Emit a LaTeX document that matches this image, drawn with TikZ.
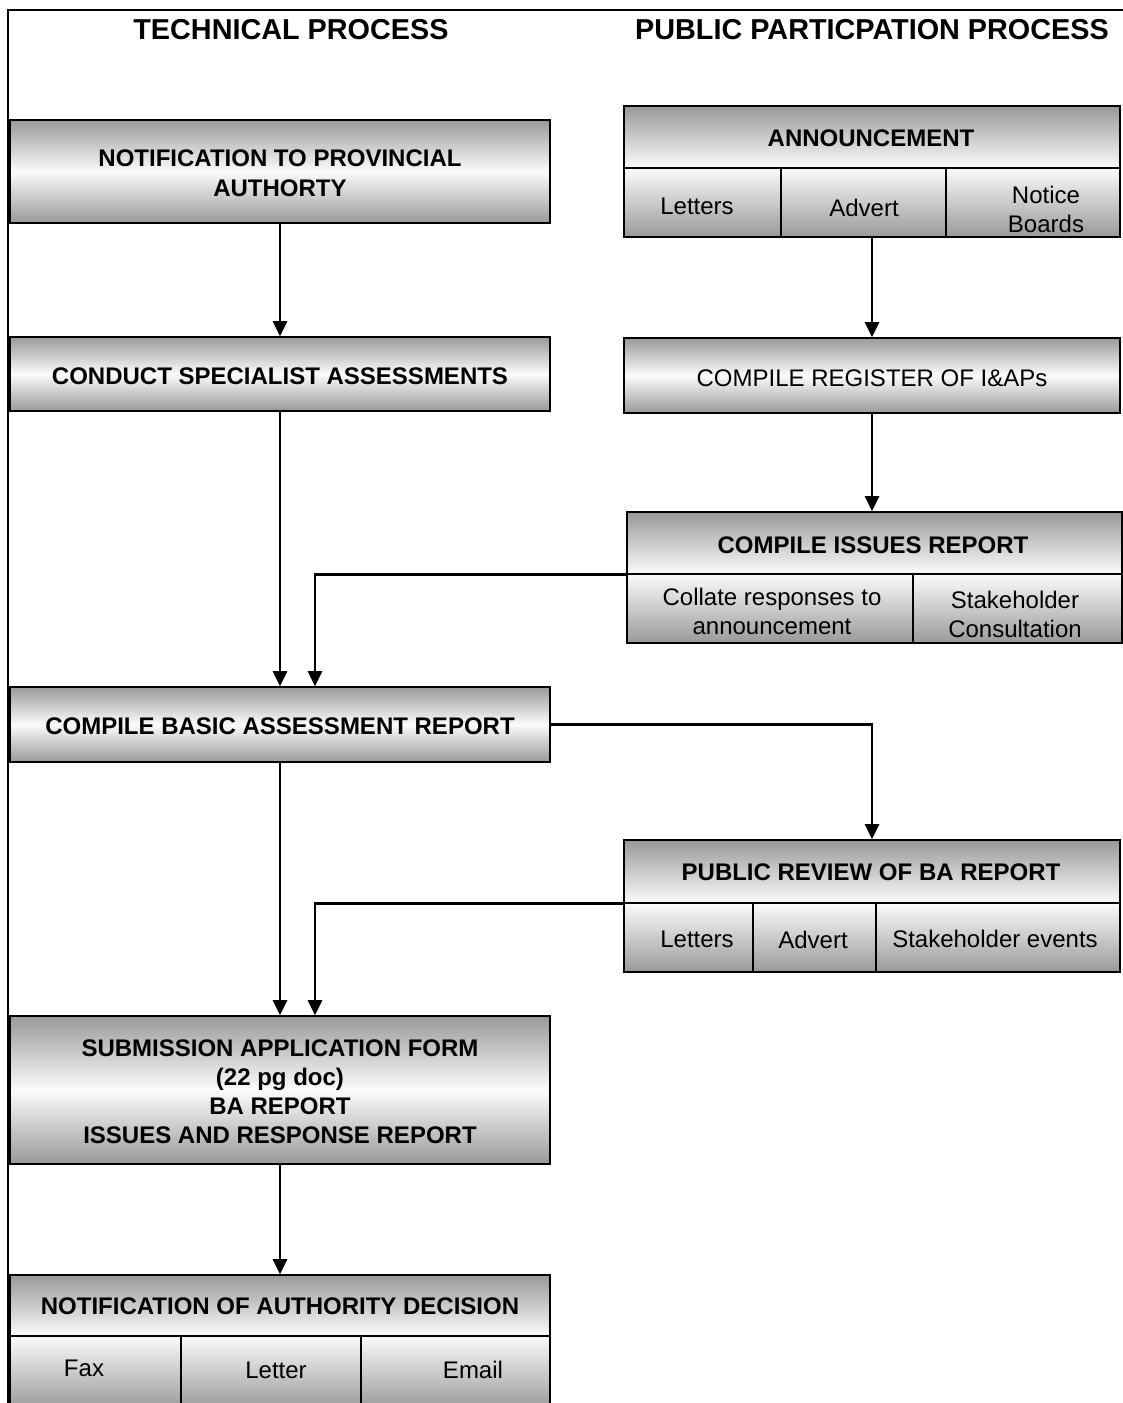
\documentclass[tikz,border=0pt]{standalone}
\usepackage{fontspec}
\setmainfont{Liberation Sans}
\usetikzlibrary{arrows.meta}
\begin{document}
\begin{tikzpicture}[x=1pt,y=-1pt,
  box/.style={draw, line width=1.6pt, top color=gray!80, bottom color=gray!80, middle color=white!97!gray, inner sep=0pt},
  toprow/.style={draw, line width=1.6pt, top color=gray!80, bottom color=white!97!gray, inner sep=0pt},
  cellrow/.style={draw, line width=1.6pt, top color=white!97!gray, bottom color=gray!80, inner sep=0pt},
  lbl/.style={inner sep=0pt, align=center, font=\fontsize{24}{29}\selectfont},
  blbl/.style={inner sep=0pt, align=center, font=\bfseries\fontsize{24}{29.5}\selectfont},
  hdr/.style={inner sep=0pt, font=\bfseries\fontsize{28.8}{34}\selectfont},
  arr/.style={line width=2.7pt, -{Triangle[length=15pt,width=14pt]}},
  frame/.style={line width=2pt}]
\useasboundingbox (0,0) rectangle (1123,1403);
% frame
\draw[frame] (8,1410) -- (8,10) -- (1130,10);
% headers
\node[hdr] (h1) at (291,30) {TECHNICAL PROCESS};
\node[hdr] (h2) at (872,30) {PUBLIC PARTICPATION PROCESS};
% left column
\node[box, minimum width=540pt, minimum height=103pt] (n1) at (280,171.5) {};
\node[blbl, font=\bfseries\fontsize{24}{30}\selectfont] (t1) at (280,173) {NOTIFICATION TO PROVINCIAL\\AUTHORTY};
\node[box, minimum width=540pt, minimum height=74pt] (n2) at (280,374) {};
\node[blbl] (t2) at (280,376) {CONDUCT SPECIALIST ASSESSMENTS};
\node[box, minimum width=540pt, minimum height=75pt] (n3) at (280,724.5) {};
\node[blbl] (t3) at (280,726) {COMPILE BASIC ASSESSMENT REPORT};
\node[box, minimum width=540pt, minimum height=148pt] (n4) at (280,1090) {};
\node[blbl, font=\bfseries\fontsize{24}{29}\selectfont] (t4) at (280,1092) {SUBMISSION APPLICATION FORM\\(22 pg doc)\\BA REPORT\\ISSUES AND RESPONSE REPORT};
\node[toprow, minimum width=540pt, minimum height=61pt] (n5) at (280,1305.5) {};
\node[blbl] (t5) at (280,1306) {NOTIFICATION OF AUTHORITY DECISION};
\node[cellrow, minimum width=171pt, minimum height=74pt] (d1) at (95.5,1373) {};
\node[cellrow, minimum width=180pt, minimum height=74pt] (d2) at (271,1373) {};
\node[cellrow, minimum width=189pt, minimum height=74pt] (d3) at (455.5,1373) {};
\node[lbl] (dt1) at (84,1368) {Fax};
\node[lbl] (dt2) at (276,1370) {Letter};
\node[lbl] (dt3) at (473,1370) {Email};
% announcement
\node[toprow, minimum width=496pt, minimum height=62pt] (a0) at (872,137) {};
\node[blbl] (at0) at (871,138) {ANNOUNCEMENT};
\node[cellrow, minimum width=157pt, minimum height=69pt] (a1) at (702.5,202.5) {};
\node[cellrow, minimum width=165pt, minimum height=69pt] (a2) at (863.5,202.5) {};
\node[cellrow, minimum width=174pt, minimum height=69pt] (a3) at (1033,202.5) {};
\node[lbl] (at1) at (697,206) {Letters};
\node[lbl] (at2) at (864,208) {Advert};
\node[lbl] (at3) at (1046,209) {Notice\\Boards};
% register
\node[box, minimum width=496pt, minimum height=75pt] (r) at (872,375.5) {};
\node[lbl] (rt) at (872,378) {COMPILE REGISTER OF I\&APs};
% issues
\node[toprow, minimum width=495pt, minimum height=62pt] (i0) at (874.5,543) {};
\node[blbl] (it0) at (873,545) {COMPILE ISSUES REPORT};
\node[cellrow, minimum width=286pt, minimum height=69pt] (i1) at (770,608.5) {};
\node[cellrow, minimum width=209pt, minimum height=69pt] (i2) at (1017.5,608.5) {};
\node[lbl] (it1) at (772,611) {Collate responses to\\announcement};
\node[lbl] (it2) at (1015,614) {Stakeholder\\Consultation};
% public review
\node[toprow, minimum width=496pt, minimum height=63pt] (p0) at (872,871.5) {};
\node[blbl] (pt0) at (871,872) {PUBLIC REVIEW OF BA REPORT};
\node[cellrow, minimum width=129pt, minimum height=69pt] (p1) at (688.5,937.5) {};
\node[cellrow, minimum width=123pt, minimum height=69pt] (p2) at (814.5,937.5) {};
\node[cellrow, minimum width=244pt, minimum height=69pt] (p3) at (998,937.5) {};
\node[lbl] (ptt1) at (697,939) {Letters};
\node[lbl] (ptt2) at (813,940) {Advert};
\node[lbl] (ptt3) at (995,939) {Stakeholder events};
% connectors
\coordinate (c1) at (315,0);
\draw[arr] (n1.south) -- (n2.north);
\draw[arr] (n2.south) -- (n3.north);
\draw[arr] (n3.south) -- (n4.north);
\draw[arr] (n4.south) -- (n5.north);
\draw[arr] (i0.south west) -| (c1 |- n3.north);
\draw[arr] (p0.south west) -| (c1 |- n4.north);
\draw[arr] (n3.east) -| (p0.north);
\draw[arr] (r.north |- a2.south) -- (r.north);
\draw[arr] (r.south) -- (r.south |- i0.north);
\end{tikzpicture}
\end{document}
